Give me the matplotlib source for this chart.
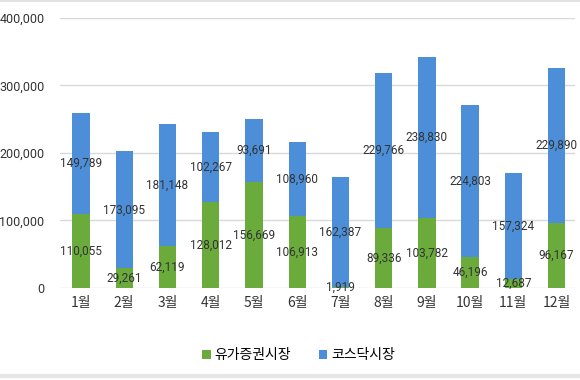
import matplotlib.pyplot as plt
import numpy as np
from matplotlib.lines import Line2D

plt.rcParams['font.family'] = ['Noto Sans CJK KR', 'DejaVu Sans']
num_font = ['DejaVu Sans Condensed', 'Roboto', 'DejaVu Sans']

months = ['1월', '2월', '3월', '4월', '5월', '6월', '7월', '8월', '9월', '10월', '11월', '12월']
kospi = [110055, 29261, 62119, 128012, 156669, 106913, 1919, 89336, 103782, 46196, 12687, 96167]
kosdaq = [149789, 173095, 181148, 102267, 93691, 108960, 162387, 229766, 238830, 224803, 157324, 229890]

fig = plt.figure(figsize=(5.8, 3.8), dpi=100)
ax = fig.add_axes([0.103, 0.242, 0.888, 0.711])

x = np.arange(len(months))
w = 0.4
green = '#6aab3c'
blue = '#4c8fd8'
b1 = ax.bar(x, kospi, w, color=green, label='유가증권시장', zorder=2)
b2 = ax.bar(x, kosdaq, w, bottom=kospi, color=blue, label='코스닥시장', zorder=2)

for i in range(len(months)):
    ax.text(x[i], kospi[i] / 2, f'{kospi[i]:,}', ha='center', va='center', fontsize=8.5,
            family=num_font, color='#333333', zorder=3)
    ax.text(x[i], kospi[i] + kosdaq[i] / 2, f'{kosdaq[i]:,}', ha='center', va='center', fontsize=8.5,
            family=num_font, color='#333333', zorder=3)

ax.set_ylim(0, 400000)
ax.set_xlim(-0.49, 11.42)
ax.set_yticks([0, 100000, 200000, 300000, 400000])
ax.set_yticklabels(['0', '100,000', '200,000', '300,000', '400,000'], family=num_font, fontsize=9)
ax.set_xticks(x)
ax.set_xticklabels(months, fontsize=10)
ax.tick_params(axis='both', length=0, colors='#333333')
ax.tick_params(axis='y', pad=11)
ax.tick_params(axis='x', pad=6)
ax.grid(axis='y', color='#d9d9d9', linewidth=1, zorder=0)
for s in ax.spines.values():
    s.set_visible(False)

fig.legend(handles=[b1, b2], loc='center', bbox_to_anchor=(0.515, 0.065), ncol=2, frameon=False,
           fontsize=10, handlelength=0.6, handleheight=0.6, handletextpad=0.3, columnspacing=2.0)

# faint frame lines at top and bottom
fig.add_artist(Line2D([0, 1], [0.998, 0.998], transform=fig.transFigure, color='#dddddd', lw=1.2))
fig.add_artist(Line2D([0, 1], [0.01, 0.01], transform=fig.transFigure, color='#e6e6e6', lw=3))

fig.savefig('out.png', dpi=100)
